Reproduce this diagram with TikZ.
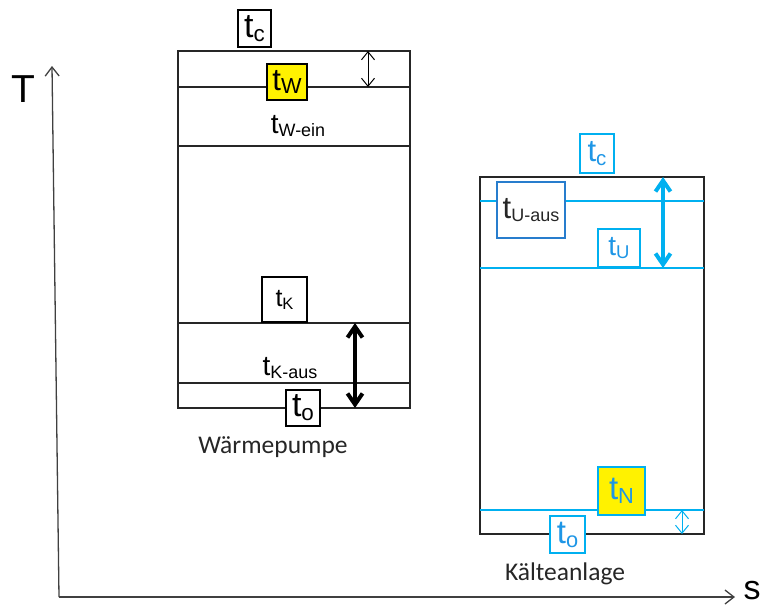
\documentclass[tikz,border=0pt]{standalone}
\usepackage{fontspec}
\setmainfont{Liberation Sans}
\newfontfamily\calib{Carlito}
\usetikzlibrary{arrows.meta,positioning}
\definecolor{lineblue}{RGB}{0,176,240}
\definecolor{textblue}{RGB}{30,150,230}
\definecolor{frameblue}{RGB}{40,125,205}
\newcommand\fs[1]{\fontsize{#1}{#1}\selectfont}
\newcommand\tsub[2][0.66]{t\raisebox{-0.12em}{\scalebox{#1}{#2}}}

\begin{document}
\begin{tikzpicture}[x=1pt, y=-1pt,
  plantbox/.style={draw=black!85, line width=1.4pt},
  lvl/.style={draw=#1, line width=1.4pt},
  tag/.style={draw=#1, line width=1.2pt, fill=white, inner sep=0pt, font=\fs{31}},
  axisline/.style={draw=black!75, line width=1.3pt, -{Straight Barb[length=9pt, width=14pt]}},
  dimarrow/.style={draw=#1, line width=1pt, {Straight Barb[length=8pt, width=13pt]}-{Straight Barb[length=8pt, width=13pt]}},
  bigarrow/.style={draw=#1, line width=4pt, {Straight Barb[length=11pt, width=15pt]}-{Straight Barb[length=11pt, width=15pt]}},
  plantname/.style={font=\calib\fs{25.5}, text=black!85}
]
\useasboundingbox (0,0) rectangle (765,608);

% Achsen
\coordinate (org) at (59,597);
\coordinate (ytip) at (52,66);
\coordinate (xtip) at (735,597);
\draw[axisline] (org) -- (ytip);
\draw[axisline] (org) -- (xtip);
\node[font=\fs{39}, inner sep=0pt] (T) at (23,89) {T};
\node[font=\fs{34}, inner sep=0pt, anchor=base] (s) at (752,599) {s};

% Wärmepumpe
\draw[plantbox] (178,51) rectangle (410,408);
\draw[lvl=black!85] (178,87) -- (410,87);
\draw[lvl=black!85] (178,146) -- (410,146);
\draw[lvl=black!85] (178,323) -- (410,323);
\draw[lvl=black!85] (178,383) -- (410,383);
\node[tag=black, minimum width=33pt, minimum height=37pt, font=\fs{34}] (wc) at (254.5,28.5) {\tsub{c}};
\node[tag=black, fill=yellow, minimum width=40pt, minimum height=36pt] (ww) at (287,82) {\tsub[0.7]{W}};
\node[font=\fs{28}] (wein) at (298,126) {\tsub[0.64]{W-ein}};
\node[tag=black, minimum width=45pt, minimum height=45pt, font=\fs{25}] (wk) at (284.5,299.5) {\tsub{K}};
\node[font=\fs{28}] (waus) at (290,368) {\tsub[0.64]{K-aus}};
\node[tag=black, minimum width=34pt, minimum height=36pt, font=\fs{34}] (wo) at (303,408) {\tsub{o}};
\node[plantname] (wp) at (273,447) {Wärmepumpe};
\coordinate (w1) at (368,51);
\coordinate (w2) at (368,87);
\coordinate (w3) at (355,323);
\coordinate (w4) at (355,408);
\draw[dimarrow=black] (w1) -- (w2);
\draw[bigarrow=black] (w3) -- (w4);

% Kälteanlage
\draw[plantbox] (480,177) rectangle (704,534);
\draw[lvl=lineblue] (480,201) -- (704,201);
\draw[lvl=lineblue] (480,268) -- (704,268);
\draw[lvl=lineblue] (480,510) -- (704,510);
\node[tag=lineblue, text=textblue, minimum width=34pt, minimum height=39pt] (kc) at (597,153.5) {\tsub{c}};
\node[tag=frameblue, text=black!85, minimum width=68pt, minimum height=56pt] (kuaus) at (531,210) {\tsub[0.58]{U-aus}};
\node[tag=lineblue, text=textblue, minimum width=42pt, minimum height=38pt, font=\fs{28}] (ku) at (619,248) {\tsub{U}};
\node[tag=lineblue, fill=yellow, text=textblue, minimum width=47pt, minimum height=48pt, font=\fs{33}] (kn) at (621.5,491) {\tsub{N}};
\node[tag=lineblue, text=textblue, minimum width=35pt, minimum height=37pt, font=\fs{33}] (ko) at (567.5,534.5) {\tsub{o}};
\node[plantname] (ka) at (565,574) {Kälteanlage};
\coordinate (k1) at (663,177);
\coordinate (k2) at (663,268);
\coordinate (k3) at (682,510);
\coordinate (k4) at (682,534);
\draw[bigarrow=lineblue] (k1) -- (k2);
\draw[dimarrow=lineblue] (k3) -- (k4);

\end{tikzpicture}
\end{document}
